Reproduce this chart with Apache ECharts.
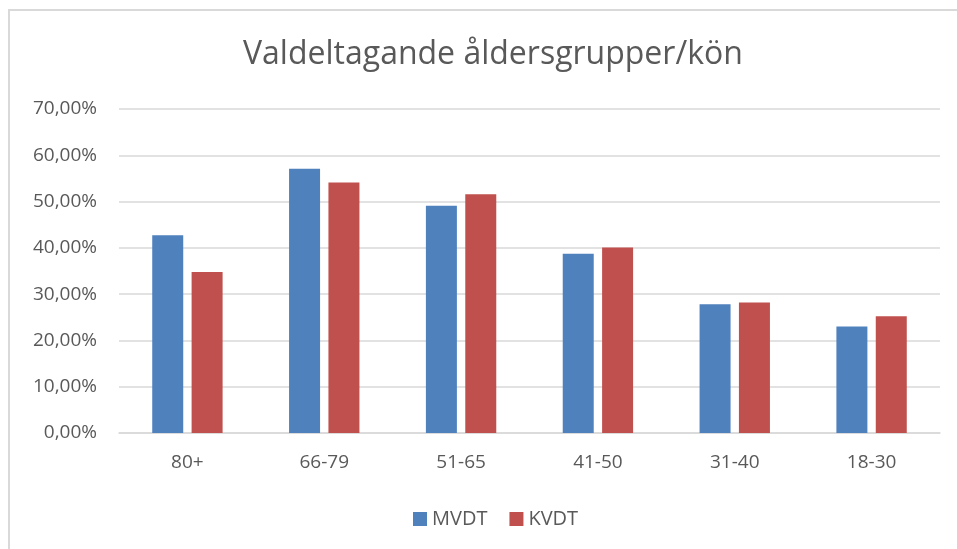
<!DOCTYPE html>
<html>
<head>
<meta charset="utf-8">
<script src="https://cdn.jsdelivr.net/npm/echarts@6/dist/echarts.min.js"></script>
<style>
  html, body { margin: 0; padding: 0; background: #fff; }
  #main { width: 957px; height: 549px; }
</style>
</head>
<body>
<div id="main"></div>
<script>
// åldersgrupper
var categories = ['80+', '66-79', '51-65', '41-50', '31-40', '18-30']
// valdeltagande i procent
var mvdt = [42.7, 57.1, 49.1, 38.7, 27.8, 23.0]
var kvdt = [34.8, 54.1, 51.6, 40.1, 28.2, 25.2]
var seriesNames = ['MVDT', 'KVDT']

var textColor = '#595959'
var fontName = 'Open Sans'

var chart = echarts.init(document.getElementById('main'))
chart.setOption({
  animation: false,
  graphic: [{
    type: 'rect',
    shape: { x: 9, y: 10, width: 960, height: 560 },
    style: { fill: 'none', stroke: '#d9d9d9', lineWidth: 2 },
    silent: true
  }],
  title: {
    text: 'Valdeltagande åldersgrupper/kön',
    left: 238,
    top: 34,
    textStyle: { color: textColor, fontFamily: fontName, fontSize: 32, fontWeight: 'normal' }
  },
  legend: {
    data: seriesNames,
    bottom: 15,
    left: 408,
    itemWidth: 14,
    itemHeight: 14,
    itemGap: 22,
    icon: 'rect',
    textStyle: { color: textColor, fontFamily: fontName, fontSize: 20 }
  },
  grid: { left: 119, right: 17, top: 109, bottom: 116, containLabel: false },
  xAxis: {
    type: 'category',
    data: categories,
    axisLine: { lineStyle: { color: '#d9d9d9', width: 1.5 } },
    axisTick: { show: false },
    axisLabel: { color: textColor, fontFamily: fontName, fontSize: 19, margin: 20 }
  },
  yAxis: {
    type: 'value',
    min: 0,
    max: 70,
    interval: 10,
    axisLine: { show: false },
    axisTick: { show: false },
    splitLine: { lineStyle: { color: '#d9d9d9', width: 1.5 } },
    axisLabel: {
      color: textColor, fontFamily: fontName, fontSize: 19, margin: 22,
      formatter: function (v) { return v.toFixed(2).replace('.', ',') + '%' }
    }
  },
  series: [{
    name: seriesNames[0],
    type: 'bar',
    data: mvdt,
    barWidth: 31,
    barGap: '27%',
    itemStyle: { color: '#4f81bd' }
  }, {
    name: seriesNames[1],
    type: 'bar',
    data: kvdt,
    barWidth: 31,
    barGap: '27%',
    itemStyle: { color: '#c0504d' }
  }]
})
</script>
</body>
</html>
